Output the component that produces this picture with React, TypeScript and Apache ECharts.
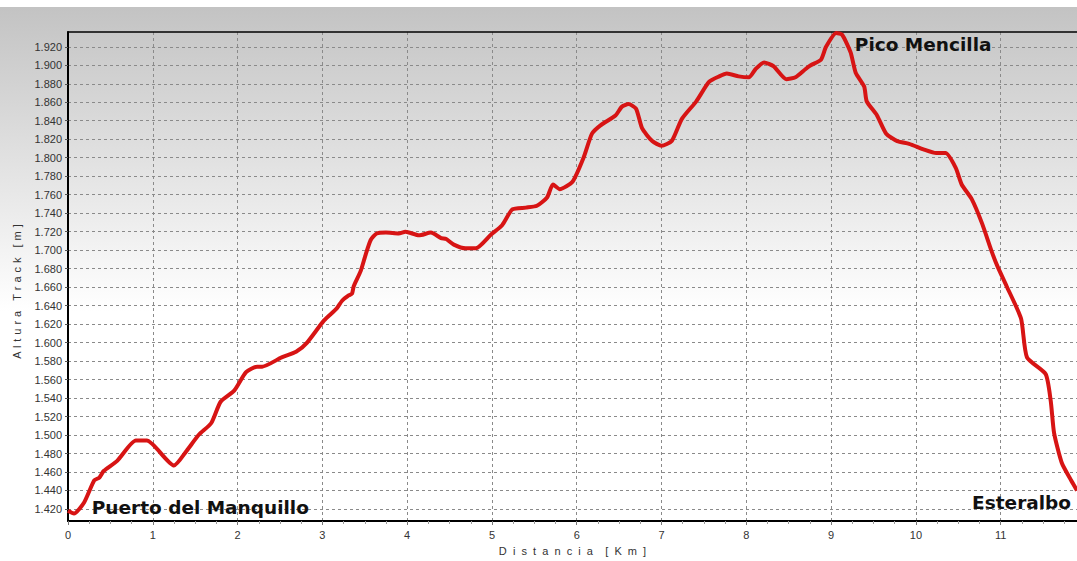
import React, { useEffect, useRef } from "react";
import * as echarts from "echarts";

// Distance along the track (km)
const distanceKm = [
  0.0, 0.07, 0.19, 0.31, 0.37, 0.42, 0.58, 0.8, 0.93, 1.25, 1.4, 1.54, 1.69, 1.8, 1.96,
  2.1, 2.23, 2.29, 2.52, 2.69, 2.82, 3.02, 3.17, 3.23, 3.31, 3.35, 3.37, 3.45, 3.51, 3.57,
  3.64, 3.75, 3.9, 3.98, 4.14, 4.28, 4.4, 4.46, 4.55, 4.69, 4.81, 4.99, 5.12, 5.24, 5.4,
  5.53, 5.65, 5.72, 5.8, 5.95, 6.08, 6.18, 6.28, 6.46, 6.53, 6.61, 6.7, 6.77, 6.89, 7.0,
  7.12, 7.24, 7.41, 7.56, 7.68, 7.77, 7.91, 8.03, 8.11, 8.21, 8.32, 8.47, 8.58, 8.7, 8.76,
  8.88, 8.94, 9.06, 9.13, 9.23, 9.29, 9.39, 9.42, 9.54, 9.65, 9.78, 9.92, 10.09, 10.24,
  10.35, 10.47, 10.54, 10.66, 10.78, 10.9, 10.96, 11.07, 11.24, 11.31, 11.53, 11.59, 11.63,
  11.72, 11.83, 11.9,
];

// Track altitude (m)
const altitudeM = [
  1418, 1415, 1427, 1451, 1454, 1461, 1472, 1494, 1494, 1467, 1483, 1500, 1513, 1536, 1548,
  1568, 1574, 1574, 1584, 1590, 1600, 1624, 1637, 1645, 1651, 1653, 1661, 1677, 1695, 1711,
  1718, 1719, 1718, 1720, 1716, 1719, 1713, 1712, 1706, 1702, 1702, 1717, 1727, 1744, 1746,
  1748, 1757, 1771, 1766, 1774, 1800, 1826, 1835, 1846, 1855, 1858, 1853, 1832, 1818, 1813,
  1818, 1842, 1861, 1882, 1888, 1891, 1888, 1887, 1896, 1903, 1899, 1885, 1887, 1896, 1900,
  1906, 1920, 1935, 1933, 1914, 1892, 1877, 1861, 1846, 1826, 1818, 1815, 1809, 1805,
  1805, 1789, 1771, 1755, 1729, 1697, 1683, 1661, 1626, 1584, 1566, 1537, 1502,
  1470, 1451, 1440,
];

// Y tick values (m)
const yTickValues = [
  1420, 1440, 1460, 1480, 1500, 1520, 1540, 1560, 1580, 1600, 1620, 1640, 1660, 1680, 1700,
  1720, 1740, 1760, 1780, 1800, 1820, 1840, 1860, 1880, 1900, 1920,
];

// Place-name annotations
const placeNames = ["Puerto del Manquillo", "Pico Mencilla", "Esteralbo"];
const placeKm = [0.28, 9.28, 11.83];
const placeM = [1422, 1922, 1427];
const placeSide = ["right", "right", "left"];

export default function App() {
  const ref = useRef<HTMLDivElement>(null);

  useEffect(() => {
    document.body.style.margin = "0";
    const chart = echarts.init(ref.current!, null, { renderer: "svg" });
    const points = distanceKm.map((d, i) => [d, altitudeM[i]]);
    const labelFont = "Liberation Sans, Arial, sans-serif";

    chart.setOption({
      animation: false,
      backgroundColor: "#ffffff",
      graphic: [
        {
          type: "rect",
          z: -10,
          silent: true,
          shape: { x: 0, y: 7, width: 1077, height: 554 },
          style: {
            fill: new echarts.graphic.LinearGradient(0, 0, 0, 1, [
              { offset: 0, color: "#c3c3c3" },
              { offset: 0.33, color: "#e7e7e7" },
              { offset: 0.55, color: "#ffffff" },
              { offset: 1, color: "#ffffff" },
            ]),
          },
        },
      ],
      grid: { left: 68, right: 0, top: 32, bottom: 32, containLabel: false },
      xAxis: [
        {
          type: "value",
          min: 0,
          max: 11.9,
          interval: 1,
          name: "D  i  s  t  a  n  c  i  a    [  K  m  ]",
          nameLocation: "middle",
          nameGap: 24,
          nameTextStyle: { fontFamily: labelFont, fontSize: 11, color: "#333" },
          axisLine: { show: true, onZero: false, lineStyle: { color: "#000", width: 2 } },
          axisTick: { show: true, length: 4, lineStyle: { color: "#777" } },
          minorTick: { show: true, splitNumber: 4, length: 3, lineStyle: { color: "#999" } },
          axisLabel: {
            fontFamily: labelFont,
            fontSize: 11,
            color: "#333",
            margin: 8,
            showMaxLabel: false,
          },
          splitLine: {
            show: true,
            lineStyle: { color: "#8a8a8a", type: [3, 3], width: 1 },
          },
        },
        {
          type: "value",
          position: "top",
          min: 0,
          max: 11.9,
          axisLine: { show: true, onZero: false, lineStyle: { color: "#000", width: 1.5 } },
          axisTick: { show: false },
          axisLabel: { show: false },
          splitLine: { show: false },
        },
      ],
      yAxis: {
        type: "value",
        min: 1407,
        max: 1936,
        name: "A \u200Al \u200At \u200Au \u200Ar \u200Aa   \u200AT \u200Ar \u200Aa \u200Ac \u200Ak   \u200A[ \u200Am \u200A]",
        nameLocation: "middle",
        nameGap: 46,
        nameTextStyle: {
          fontFamily: labelFont,
          fontSize: 11,
          color: "#333",
          padding: [0, 30, 0, 0],
        },
        axisLine: { show: true, onZero: false, lineStyle: { color: "#000", width: 2 } },
        axisTick: { show: true, length: 3, customValues: yTickValues, lineStyle: { color: "#555" } },
        axisLabel: {
          customValues: yTickValues,
          fontFamily: labelFont,
          fontSize: 11,
          color: "#333",
          margin: 6,
          formatter: (v: number) => (v / 1000).toFixed(3),
        },
        splitLine: {
          show: true,
          lineStyle: { color: "#8a8a8a", type: [3, 3], width: 1 },
        },
      },
      series: [
        {
          type: "line",
          data: points,
          showSymbol: false,
          smooth: 0.2,
          clip: false,
          lineStyle: { color: "#d71414", width: 4 },
          itemStyle: { color: "#d71414" },
          markPoint: {
            symbol: "circle",
            symbolSize: 0,
            silent: true,
            data: placeNames.map((n, i) => ({
              name: n,
              coord: [placeKm[i], placeM[i]],
              label: {
                show: true,
                position: placeSide[i],
                distance: 0,
                formatter: n,
                fontFamily: "DejaVu Sans, sans-serif",
                fontWeight: "bold",
                fontSize: 18.5,
                color: "#111",
              },
            })),
          },
        },
      ],
    });

    return () => chart.dispose();
  }, []);

  return <div ref={ref} style={{ width: 1077, height: 561 }} />;
}
